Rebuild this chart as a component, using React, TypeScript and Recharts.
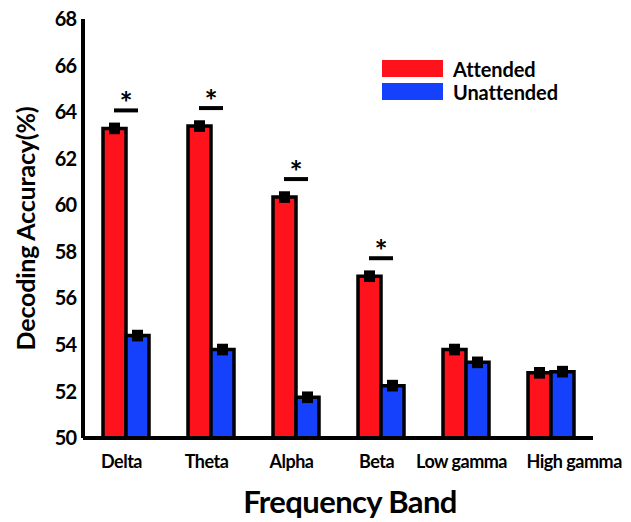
import React from "react";
import {
  BarChart,
  Bar,
  XAxis,
  YAxis,
  Legend,
  ErrorBar,
  LabelList,
} from "recharts";

const bands = ["Delta", "Theta", "Alpha", "Beta", "Low gamma", "High gamma"];
const attended = [63.3, 63.4, 60.35, 56.95, 53.8, 52.8];
const unattended = [54.4, 53.8, 51.75, 52.25, 53.25, 52.85];
const attendedErr = [0.25, 0.25, 0.25, 0.25, 0.25, 0.25];
const unattendedErr = [0.25, 0.25, 0.25, 0.25, 0.25, 0.25];
const significance = ["*", "*", "*", "*", "", ""];
const yTicks = [50, 52, 54, 56, 58, 60, 62, 64, 66, 68];
const seriesNames = ["Attended", "Unattended"];

const RED = "#fe121b";
const BLUE = "#1541fc";
const FONT = "Lato, 'Open Sans', sans-serif";

const data = bands.map((band, i) => ({
  band,
  attended: attended[i],
  unattended: unattended[i],
  attendedErr: attendedErr[i],
  unattendedErr: unattendedErr[i],
  sig: significance[i],
}));

// bracket + star above the red bar, centred on the pair
const SigMark = (props: any) => {
  const { x, y, width, value } = props;
  if (!value) return null;
  const cx = Number(x) + Number(width);
  const ly = Number(y) - 18;
  return (
    <g>
      <line x1={cx - 12} x2={cx + 12} y1={ly} y2={ly} stroke="#000" strokeWidth={4} />
      <text
        x={cx}
        y={ly + 4}
        textAnchor="middle"
        fontSize={31}
        fontWeight={700}
        fontFamily={FONT}
        fill="#000"
      >
        {value}
      </text>
    </g>
  );
};

// category label; the last one is pushed right so it does not run into its neighbour
const BandTick = (props: any) => {
  const { x, y, payload, index } = props;
  const last = index === bands.length - 1;
  return (
    <text
      x={last ? x - 24 : x - 4}
      y={y}
      dy={13}
      textAnchor={last ? "start" : "middle"}
      fill="#000"
      fontSize={18}
      fontWeight={700}
      fontFamily={FONT}
      letterSpacing={-0.5}
    >
      {payload.value}
    </text>
  );
};

const LegendBox = () => {
  const colors = [RED, BLUE];
  return (
    <div style={{ fontFamily: FONT }}>
      {seriesNames.map((name, i) => (
        <div
          key={name}
          style={{ display: "flex", alignItems: "center", height: 23 }}
        >
          <div style={{ width: 61, height: 17, background: colors[i] }} />
          <span
            style={{
              marginLeft: 10,
              fontSize: 20,
              fontWeight: 700,
              letterSpacing: -0.1,
              color: "#000",
            }}
          >
            {name}
          </span>
        </div>
      ))}
    </div>
  );
};

export default function App() {
  return (
    <div style={{ position: "absolute", left: 0, top: 0, background: "#fff" }}>
      <BarChart
        width={631}
        height={522}
        data={data}
        margin={{ top: 19, right: 38, bottom: 0, left: 0 }}
        barGap={0}
        barSize={23}
      >
        <XAxis
          dataKey="band"
          height={84}
          axisLine={{ stroke: "#000", strokeWidth: 4 }}
          tickLine={false}
          tickSize={8}
          tickMargin={9}
          tick={<BandTick />}
          interval={0}
          label={{
            value: "Frequency Band",
            position: "insideBottom",
            offset: 9,
            dx: 12,
            style: { fill: "#000", fontSize: 31, fontWeight: 700, fontFamily: FONT, letterSpacing: -0.6 },
          }}
        />
        <YAxis
          width={83}
          domain={[50, 68]}
          ticks={yTicks}
          allowDataOverflow
          axisLine={{ stroke: "#000", strokeWidth: 4 }}
          tickLine={false}
          tickSize={4}
          tickMargin={3}
          tick={{ fill: "#000", fontSize: 20, fontWeight: 700, fontFamily: FONT, letterSpacing: -1 }}
          label={{
            value: "Decoding Accuracy(%)",
            angle: -90,
            position: "center",
            dx: -15,
            style: { fill: "#000", fontSize: 25, fontWeight: 700, fontFamily: FONT, letterSpacing: -0.2 },
          }}
        />
        <Legend
          layout="horizontal"
          verticalAlign="middle"
          align="center"
          content={<LegendBox />}
          wrapperStyle={{ position: "absolute", top: 57, left: 382, width: 200, height: 50 }}
        />
        <Bar
          dataKey="attended"
          name={seriesNames[0]}
          fill={RED}
          stroke="#000"
          strokeWidth={3.5}
          isAnimationActive={false}
        >
          <ErrorBar dataKey="attendedErr" width={0} stroke="#000" strokeWidth={11} />
          <LabelList dataKey="sig" content={<SigMark />} />
        </Bar>
        <Bar
          dataKey="unattended"
          name={seriesNames[1]}
          fill={BLUE}
          stroke="#000"
          strokeWidth={3.5}
          isAnimationActive={false}
        >
          <ErrorBar dataKey="unattendedErr" width={0} stroke="#000" strokeWidth={11} />
        </Bar>
      </BarChart>
    </div>
  );
}
